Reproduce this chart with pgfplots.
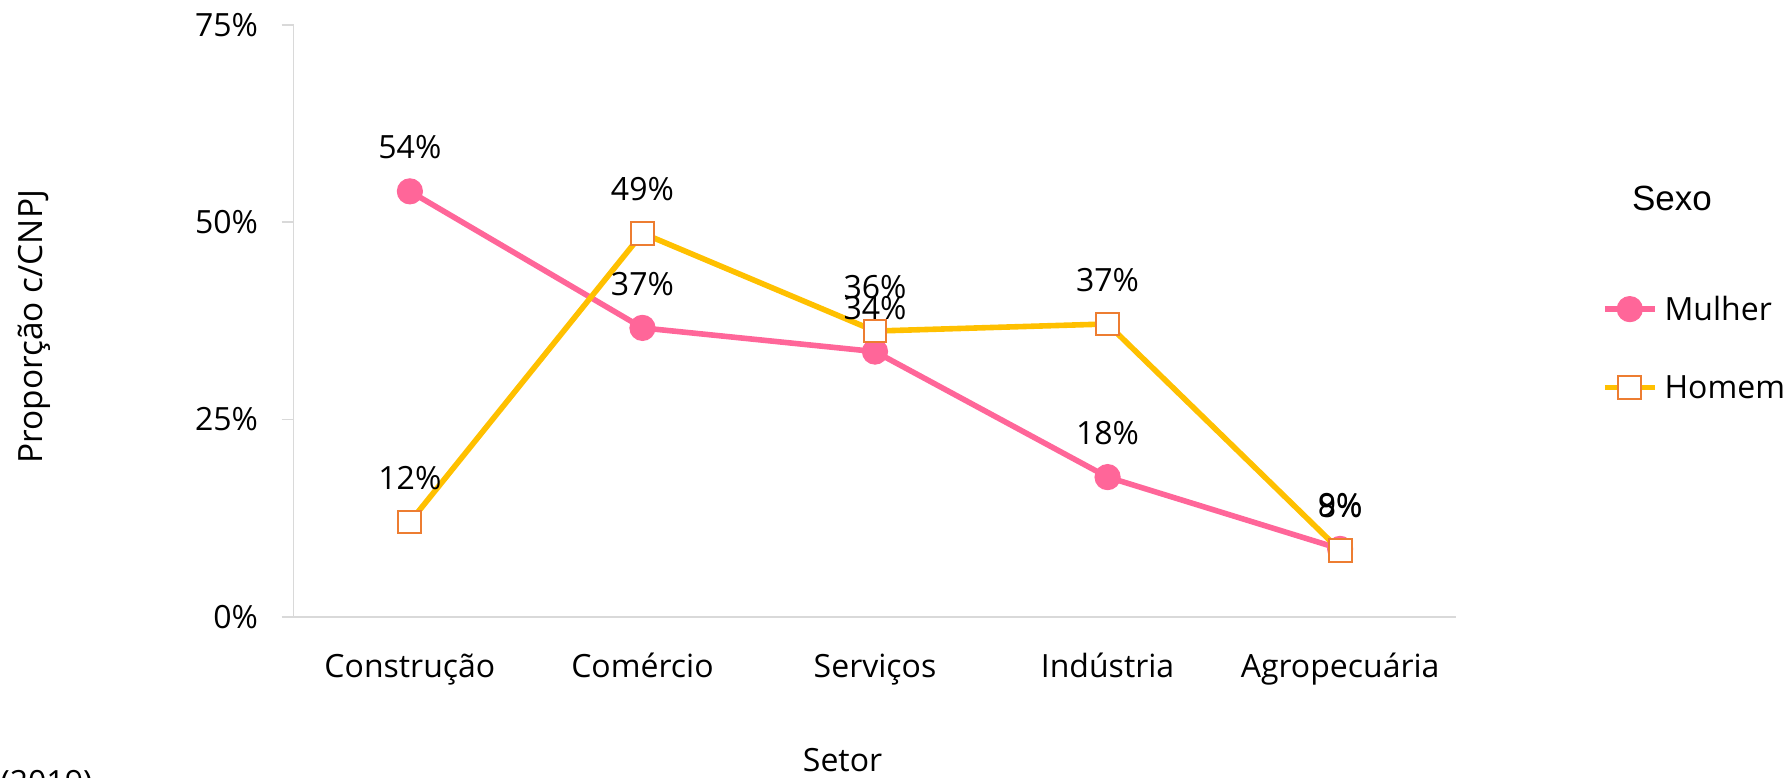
\documentclass[border=0pt]{standalone}
\usepackage{pgfplots}
\pgfplotsset{compat=1.18}
\usepackage{fontspec}
\setmainfont{Open Sans}
\newfontfamily\arialfont{Liberation Sans}
\definecolor{pinkline}{HTML}{FF6699}
\definecolor{goldline}{HTML}{FFC000}
\definecolor{orangeedge}{HTML}{ED7D31}
\definecolor{axisgray}{HTML}{D9D9D9}

\pgfplotstableread{
x y
0 53.9
1 36.6
2 33.6
3 17.7
4 8.6
}\mulher
\pgfplotstableread{
x y
0 12.0
1 48.6
2 36.2
3 37.1
4 8.4
}\homem

\begin{document}
\begin{tikzpicture}
\begin{axis}[
  at={(146.8pt,80.1pt)}, anchor=south west,
  scale only axis, width=581.4pt, height=296pt,
  xmin=-0.5, xmax=4.5, ymin=0, ymax=75,
  clip=false,
  xtick={0,1,2,3,4},
  xticklabels={Construção,Comércio,Serviços,Indústria,Agropecuária},
  ytick={0,25,50,75}, yticklabels={0\%,25\%,50\%,75\%},
  axis x line*=bottom, axis y line*=left,
  axis line style={-, draw=axisgray, line width=0.75pt},
  major tick length=6pt, tick align=outside,
  xtick style={draw=none},
  ytick style={draw=axisgray, line width=0.75pt},
  tick label style={font=\fontsize{16}{19}\selectfont},
  xticklabel style={anchor=base, yshift=-24.2pt, inner sep=0pt},
  yticklabel style={anchor=base east, yshift=-5.6pt, xshift=-11.6pt, inner sep=0pt},
  xlabel={Setor},
  xlabel style={at={(axis description cs:0.4721,0)}, anchor=base, yshift=-77.45pt, inner sep=0pt, font=\fontsize{16}{19}\selectfont},
  ylabel={Proporção c/CNPJ},
  ylabel style={at={(axis description cs:-0.2232,0.49)}, anchor=center, inner sep=0pt, font=\fontsize{16.7}{19}\selectfont},
  nodes near coords={\pgfmathprintnumber[fixed,precision=0,assume math mode=true]{\pgfplotspointmeta}\%},
  point meta=y,
  every node near coord/.append style={anchor=center, yshift=22pt, text=black, font=\fontsize{16}{19}\selectfont},
  legend image code/.code={%
    \draw[mark repeat=2, mark phase=2, #1] plot coordinates {(0pt,0pt) (12.5pt,0pt) (25pt,0pt)};%
  },
  legend style={at={(1.1252,0.541)}, anchor=north west, draw=none, fill=none,
    inner sep=0pt, outer sep=0pt,
    row sep={39.1pt,between origins},
    nodes={inner sep=0pt, text height=11pt, text depth=0pt, font=\fontsize{16}{19}\selectfont},
    /tikz/every odd column/.style={column sep=3.5pt}},
  legend cell align=left,
]
\addplot[color=pinkline, line width=2.8pt, mark=*, mark size=6.3pt,
  mark options={fill=pinkline, draw=pinkline, line width=0.5pt}] table[x=x,y=y] {\mulher};
\addlegendentry{Mulher}
\addplot[color=goldline, line width=2.8pt, mark=square*, mark size=5.7pt,
  mark options={fill=white, draw=orangeedge, line width=1pt}] table[x=x,y=y] {\homem};
\addlegendentry{Homem}
\end{axis}
\node[anchor=base, inner sep=0pt, font=\arialfont\fontsize{17.5}{20}\selectfont] at (836pt,283.2pt) {Sexo};
\node[anchor=north west, inner sep=0pt, font=\fontsize{16}{19}\selectfont] at (0pt,3.5pt) {(2019)};
\pgfresetboundingbox
\useasboundingbox (0,0) rectangle (895.5pt,388.5pt);
\end{tikzpicture}
\end{document}
